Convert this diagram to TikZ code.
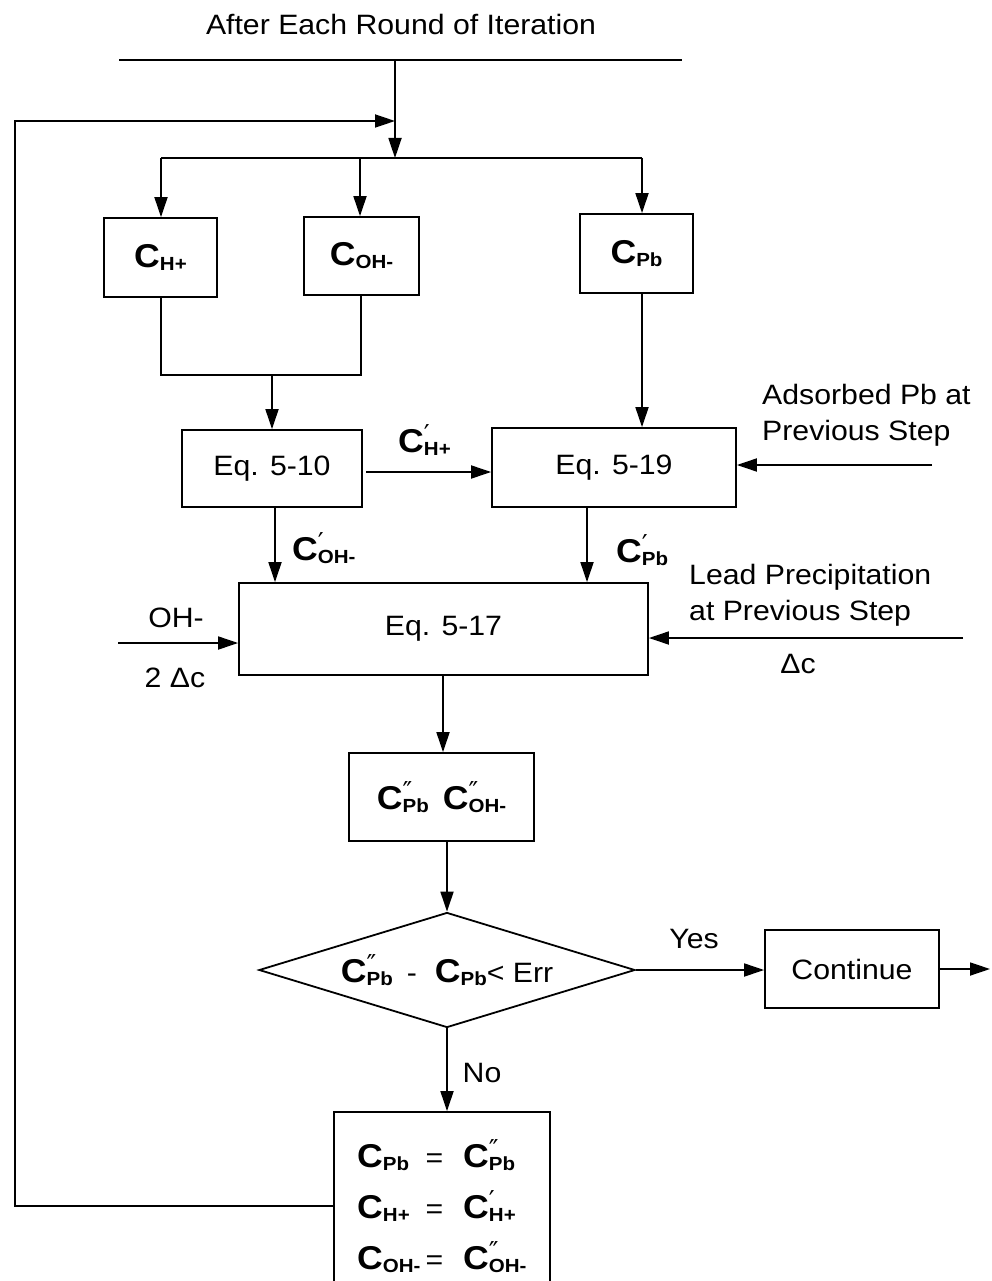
\documentclass[tikz,border=0pt]{standalone}
\usepackage{fontspec}
\setmainfont{Liberation Sans}[FakeStretch=1.08]
\newfontfamily\pfont{DejaVu Sans}
\usetikzlibrary{arrows.meta,shapes.geometric}
\newcommand{\Cx}[2]{{\bfseries\fontsize{33}{33}\selectfont C}\rlap{\raisebox{9pt}{\pfont\fontsize{26}{26}\selectfont #1}}\raisebox{-3pt}{\bfseries\fontsize{19}{19}\selectfont #2}}
\newcommand{\tf}{\fontsize{28}{36}\selectfont}
\begin{document}
\begin{tikzpicture}[x=1pt,y=-1pt,
  every node/.style={font=\tf, inner sep=0pt},
  line/.style={line width=1.8pt},
  arr/.style={line width=1.8pt,-{Triangle[length=20pt,width=13pt]}},
  box/.style={draw,line width=1.8pt,rectangle}]
\useasboundingbox (0,0) rectangle (991,1281);
% title and top line
\node[anchor=base] (title) at (401,35) {After Each Round of Iteration};
\coordinate (tl) at (119,60); \coordinate (tr) at (682,60);
\draw[line] (tl) -- (tr);
\coordinate (t0) at (395,60); \coordinate (d0) at (395,158);
\draw[arr] (t0) -- (d0);
% boxes
\node[box, minimum width=113pt, minimum height=79pt] (ch) at (160.5,257.5) {\Cx{}{H+}};
\node[box, minimum width=115pt, minimum height=78pt] (coh) at (361.5,256) {\Cx{}{OH-}};
\node[box, minimum width=113pt, minimum height=79pt] (cpb) at (636.5,253.5) {\Cx{}{Pb}};
\node[box, minimum width=180pt, minimum height=77pt] (eq10) at (272,468.5) {Eq. 5-10};
\node[box, minimum width=244pt, minimum height=79pt] (eq19) at (614,467.5) {Eq. 5-19};
\node[box, minimum width=409pt, minimum height=92pt] (eq17) at (443.5,629) {Eq. 5-17};
\node[box, minimum width=185pt, minimum height=88pt] (cpp) at (441.5,797) {\Cx{″}{Pb}\hspace{14pt}\Cx{″}{OH-}};
\node[draw, line width=1.8pt, diamond, shape aspect=3.3, minimum width=376pt, minimum height=115pt, inner sep=0pt] (dec) at (447,970) {\Cx{″}{Pb}\hspace{14pt}-\hspace{18pt}\Cx{}{Pb}<~Err};
\node[box, minimum width=174pt, minimum height=78pt] (cont) at (852,969) {Continue};
\node[box, minimum width=216pt, minimum height=171pt] (upd) at (442,1197.5) {};
\node[anchor=base west] (updtxt) at (357,1167) {\fontsize{28}{51}\selectfont\begin{tabular}[t]{@{}l@{\hspace{5pt}}l@{\hspace{20pt}}l@{}}
\Cx{}{Pb} & = & \Cx{″}{Pb}\\
\Cx{}{H+} & = & \Cx{′}{H+}\\
\Cx{}{OH-} & = & \Cx{″}{OH-}
\end{tabular}};
% distribution
\coordinate (d1) at (161,158); \coordinate (d2) at (360,158); \coordinate (d3) at (642,158);
\draw[line] (d1) -- (d3);
\draw[arr] (d1) -- (d1 |- ch.north);
\draw[arr] (d2) -- (d2 |- coh.north);
\draw[arr] (d3) -- (d3 |- cpb.north);
% merge
\coordinate (m1) at (161,375); \coordinate (m2) at (361,375); \coordinate (m0) at (272,375);
\draw[line] (m1 |- ch.south) -- (m1) -- (m2) -- (m2 |- coh.south);
\draw[arr] (m0) -- (m0 |- eq10.north);
\draw[arr] (d3 |- cpb.south) -- (d3 |- eq19.north);
\coordinate (h1) at (366,472);
\draw[arr] (h1) -- (h1 -| eq19.west);
\coordinate (v1) at (275,0); \coordinate (v2) at (587,0); \coordinate (v3) at (443,0);
\draw[arr] (v1 |- eq10.south) -- (v1 |- eq17.north);
\draw[arr] (v2 |- eq19.south) -- (v2 |- eq17.north);
\coordinate (ain) at (932,465);
\draw[arr] (ain) -- (ain -| eq19.east);
\coordinate (lin) at (963,638);
\draw[arr] (lin) -- (lin -| eq17.east);
\coordinate (ohin) at (118,643);
\draw[arr] (ohin) -- (ohin -| eq17.west);
\draw[arr] (v3 |- eq17.south) -- (v3 |- cpp.north);
\draw[arr] (dec.north |- cpp.south) -- (dec.north);
\draw[arr] (dec.east) -- (dec.east -| cont.west);
\coordinate (out) at (990,969);
\draw[arr] (cont.east) -- (out);
\draw[arr] (dec.south) -- (dec.south |- upd.north);
% feedback
\coordinate (fbt) at (15,121); \coordinate (fbb) at (15,1206); \coordinate (mv) at (395,121);
\draw[arr] (fbb -| upd.west) -- (fbb) -- (fbt) -- (mv);
% labels
\node[anchor=base west] (lh) at (398,452) {\Cx{′}{H+}};
\node[anchor=base west] (loh) at (292,560) {\Cx{′}{OH-}};
\node[anchor=base west] (lpb) at (616,562) {\Cx{′}{Pb}};
\node[anchor=north west, align=left] (ads) at (762,384) {Adsorbed Pb at\\Previous Step};
\node[anchor=north west, align=left] (lead) at (689,564) {Lead Precipitation\\at Previous Step};
\node[anchor=base] (ohl) at (176,627) {OH-};
\node[anchor=base] (dcl) at (175,687) {2 Δc};
\node[anchor=base] (dcr) at (798,673) {Δc};
\node[anchor=base] (yes) at (694,948) {Yes};
\node[anchor=base] (no) at (482,1082) {No};
\end{tikzpicture}
\end{document}
